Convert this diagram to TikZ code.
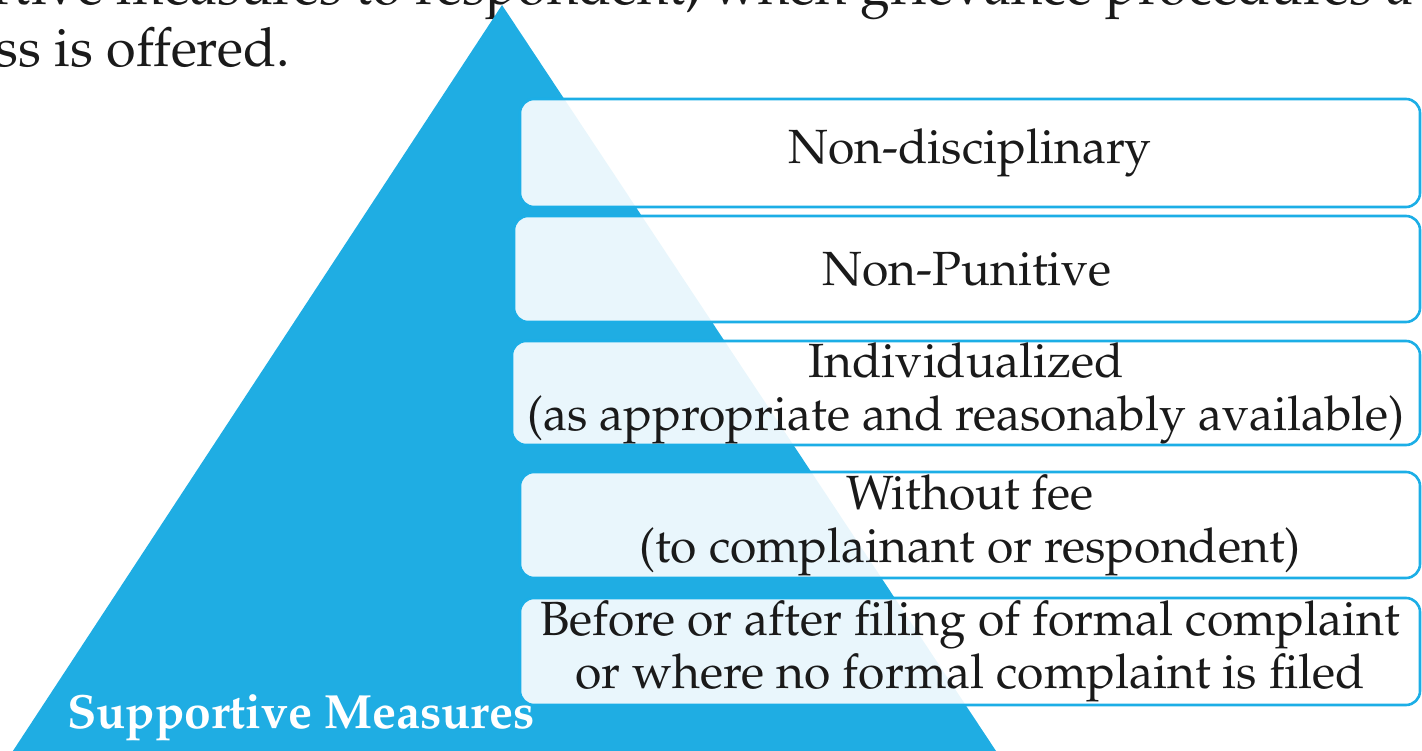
\documentclass[tikz,border=0pt]{standalone}
\usepackage[T1]{fontenc}
\usepackage{mathpazo}
\usetikzlibrary{positioning}

\definecolor{pyrblue}{HTML}{1FADE3}
\definecolor{edgeblue}{HTML}{1CAEE6}
\definecolor{inkgray}{HTML}{1A1A1A}

\tikzset{
	level/.style={draw=edgeblue, line width=2.6pt, fill=white, fill opacity=0.9, text opacity=1,
		rounded corners=14pt, inner sep=0pt, align=center, text=inkgray,
		font=\fontsize{48}{53}\selectfont},
	body/.style={inner sep=0pt, text=inkgray, font=\fontsize{54}{63}\selectfont}
}

\begin{document}
\begin{tikzpicture}[x=1pt, y=-1pt]
	\useasboundingbox (0,0) rectangle (1422,751);
	\clip (0,0) rectangle (1422,751);
	
	% running text above the figure
	\node[body, anchor=base west] (line1) at (-8,5) {rtive measures to respondent, when grievance procedures a};
	\node[body, anchor=base west] (line2) at (-5,67) {ss is offered.};
	
	% pyramid
	\fill[pyrblue] (502,5) -- (1002,760) -- (7,760) -- cycle;
	\node[inner sep=0pt, text=white, font=\fontsize{48}{56}\bfseries\selectfont] (sm) at (301,718) {Supportive Measures};
	
	% levels
	\node[level, minimum width=900pt, minimum height=108pt] (nd) at (970,153) {Non-disciplinary};
	\node[level, minimum width=906pt, minimum height=106pt] (np) at (967,269) {Non-Punitive};
	\node[level, minimum width=908pt, minimum height=104pt] (ind) at (966,393) {Individualized\\(as appropriate and reasonably available)};
	\node[level, minimum width=900pt, minimum height=106pt] (fee) at (970,525) {Without fee\\(to complainant or respondent)};
	\node[level, minimum width=900pt, minimum height=107pt] (when) at (970,651.5) {Before or after filing of formal complaint\\or where no formal complaint is filed};
	
\end{tikzpicture}
\end{document}
